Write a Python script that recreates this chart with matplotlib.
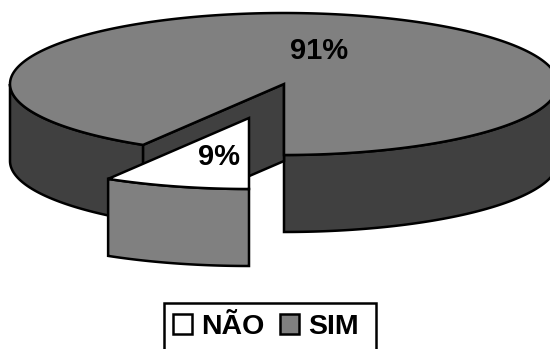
import numpy as np
import matplotlib
matplotlib.use("Agg")
import matplotlib.pyplot as plt
from matplotlib.patches import Patch, Polygon, Rectangle

# Survey result
categories = ["NÃO", "SIM"]
values = [9, 91]
top_colors = ["#ffffff", "#808080"]
side_colors = ["#808080", "#404040"]

plt.rcParams["font.family"] = ["Liberation Sans", "DejaVu Sans"]

W, H = 550, 349
fig = plt.figure(figsize=(W / 100, H / 100), dpi=100)
ax = fig.add_axes([0, 0, 1, 1])
ax.set_xlim(0, W)
ax.set_ylim(H, 0)
ax.axis("off")

# Tilted disc layout, in pixels
CX, CY, RX, RY, DEPTH = 284, 84, 274, 71, 77
EXPLODE = (-35, 34)
FORESHORTEN = 0.955  # the tilt narrows slices near the front of the disc
LW = 1.8
FONT_SIZE = 20.5


def rim(t0, t1, n=160, dx=0, dy=0, drop=0):
    t = np.radians(np.linspace(t0, t1, n))
    return np.column_stack([CX + dx + RX * np.cos(t), CY + dy + drop - RY * np.sin(t)])


def face(points, color):
    ax.add_patch(Polygon(points, closed=True, facecolor=color, edgecolor="black",
                         linewidth=LW, joinstyle="miter"))


def outer_wall(t0, t1, color, dx=0, dy=0):
    upper = rim(t0, t1, dx=dx, dy=dy)
    lower = rim(t1, t0, dx=dx, dy=dy, drop=DEPTH)
    face(np.vstack([upper, lower]), color)


# Angles run clockwise on screen from the front of the disc
start = 270.0
cut = start - values[0] / sum(values) * 360.0 * FORESHORTEN

# Main slice: outer wall on both sides of the gap, inner cut wall, then the top
apex = np.array([CX, CY])
edge = rim(cut, cut, n=1)[0]
outer_wall(180, cut, side_colors[1])
outer_wall(start, 360, side_colors[1])
face([apex, edge, edge + (0, DEPTH), apex + (0, DEPTH)], side_colors[1])
face(np.vstack([[apex], rim(start, cut + 360, n=400)]), top_colors[1])

# Pulled-out slice
dx, dy = EXPLODE
outer_wall(cut, start, side_colors[0], dx, dy)
face(np.vstack([[apex + EXPLODE], rim(cut, start, dx=dx, dy=dy)]), top_colors[0])

# Percent labels
label_positions = [(219, 157), (319, 51)]
for v, (x, y) in zip(values, label_positions):
    ax.text(x, y, f"{v}%", ha="center", va="center", fontsize=FONT_SIZE + 0.5,
            fontweight="bold", color="black")

# Legend box runs off the bottom edge, with more room on its right
ax.add_patch(Rectangle((163.5, 302.5), 212.5, 60, facecolor="white", edgecolor="black",
                       linewidth=LW, clip_on=True))
handles = [Patch(facecolor=c, edgecolor="black", linewidth=LW) for c in top_colors]
leg = ax.legend(handles, categories, ncol=2, loc="center left",
                bbox_to_anchor=(173, 327), bbox_transform=ax.transData,
                frameon=False,
                prop={"size": FONT_SIZE, "weight": "bold"},
                handlelength=0.68, handleheight=0.68, handletextpad=0.3,
                columnspacing=0.55, borderpad=0, borderaxespad=0)

fig.savefig("out.png", dpi=100)
